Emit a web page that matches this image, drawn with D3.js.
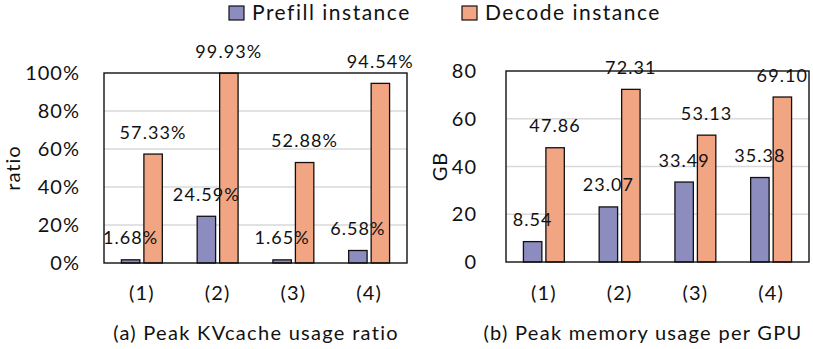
<!DOCTYPE html>
<html><head><meta charset="utf-8">
<script src="https://cdn.jsdelivr.net/npm/d3@7"></script>
<style>
html,body{margin:0;padding:0;background:#fff;}
svg text{font-family:Lato,"Open Sans",sans-serif;fill:#111;}
</style></head>
<body><svg id="c" width="813" height="349"></svg>
<script>
const categories = ["(1)","(2)","(3)","(4)"];
const seriesNames = ["Prefill instance","Decode instance"];
const kvPrefill = [1.68, 24.59, 1.65, 6.58];
const kvDecode = [57.33, 99.93, 52.88, 94.54];
const memPrefill = [8.54, 23.07, 33.49, 35.38];
const memDecode = [47.86, 72.31, 53.13, 69.10];
const kvTicks = [0, 20, 40, 60, 80, 100];
const memTicks = [0, 20, 40, 60, 80];
const colors = ["#8c8cbf", "#f2a583"];

const svg = d3.select("#c");

function panel(opts){
  const {x0,x1,yTop,yBot,max,ticks,fmtTick,fmtVal,series,yLabel,yLabelX,tickX,title,titleX} = opts;
  const g = svg.append("g");
  const x = d3.scaleBand().domain(categories).range([x0,x1]).paddingInner(0.46).paddingOuter(0.23);
  const xs = d3.scaleBand().domain(seriesNames).range([0,x.bandwidth()]).paddingInner(0.18);
  const y = d3.scaleLinear().domain([0,max]).range([yBot,yTop]);
  g.selectAll(".grid").data(ticks.filter(t=>t>0 && t<max)).join("line")
    .attr("x1",x0).attr("x2",x1).attr("y1",d=>y(d)).attr("y2",d=>y(d))
    .attr("stroke","#d9d9d9").attr("stroke-width",1.3);
  g.selectAll(".tl").data(ticks).join("text")
    .attr("x",tickX).attr("y",d=>y(d)).attr("dy","0.36em")
    .attr("text-anchor","end").attr("font-size",20).attr("letter-spacing","1px").text(fmtTick);
  series.forEach((vals,si)=>{
    g.selectAll(".b"+si).data(vals).join("rect")
      .attr("x",(d,i)=>x(categories[i])+xs(seriesNames[si]))
      .attr("y",d=>y(d)).attr("width",xs.bandwidth()).attr("height",d=>yBot-y(d))
      .attr("fill",colors[si]).attr("stroke","#111").attr("stroke-width",1.3);
  });
  g.append("rect").attr("x",x0).attr("y",yTop).attr("width",x1-x0).attr("height",yBot-yTop)
    .attr("fill","none").attr("stroke","#111").attr("stroke-width",1.4);
  series.forEach((vals,si)=>{
    g.selectAll(".v"+si).data(vals).join("text")
      .attr("x",(d,i)=>x(categories[i])+xs(seriesNames[si])+xs.bandwidth()/2)
      .attr("y",d=>y(d)-15.5).attr("text-anchor","middle")
      .attr("font-size",18).attr("letter-spacing","1.1px").text(fmtVal);
  });
  g.selectAll(".cl").data(categories).join("text")
    .attr("x",d=>x(d)+x.bandwidth()/2).attr("y",300).attr("text-anchor","middle")
    .attr("font-size",20).attr("letter-spacing","1.2px").text(d=>d);
  g.append("text").attr("transform",`translate(${yLabelX},${(yTop+yBot)/2}) rotate(-90)`)
    .attr("text-anchor","middle").attr("dy","0.36em").attr("font-size",20).attr("letter-spacing","1px").text(yLabel);
  g.append("text").attr("x",titleX).attr("y",340).attr("text-anchor","middle")
    .attr("font-size",20).attr("letter-spacing","1.3px").text(title);
}

panel({x0:104,x1:407,yTop:73,yBot:263,max:100,ticks:kvTicks,
  fmtTick:d=>d+"%",fmtVal:d=>d.toFixed(2)+"%",series:[kvPrefill,kvDecode],
  yLabel:"ratio",yLabelX:13,tickX:80,title:"(a) Peak KVcache usage ratio",titleX:256});
panel({x0:506,x1:809,yTop:71,yBot:262,max:80,ticks:memTicks,
  fmtTick:d=>d,fmtVal:d=>d.toFixed(2),series:[memPrefill,memDecode],
  yLabel:"GB",yLabelX:440,tickX:477,title:"(b) Peak memory usage per GPU",titleX:643});

const legX = [229, 462];
seriesNames.forEach((s,i)=>{
  svg.append("rect").attr("x",legX[i]).attr("y",6).attr("width",15).attr("height",14)
    .attr("fill",colors[i]).attr("stroke","#111").attr("stroke-width",1.2);
  svg.append("text").attr("x",legX[i]+23).attr("y",20).attr("font-size",21).attr("letter-spacing","1.5px").text(s);
});
</script></body></html>
